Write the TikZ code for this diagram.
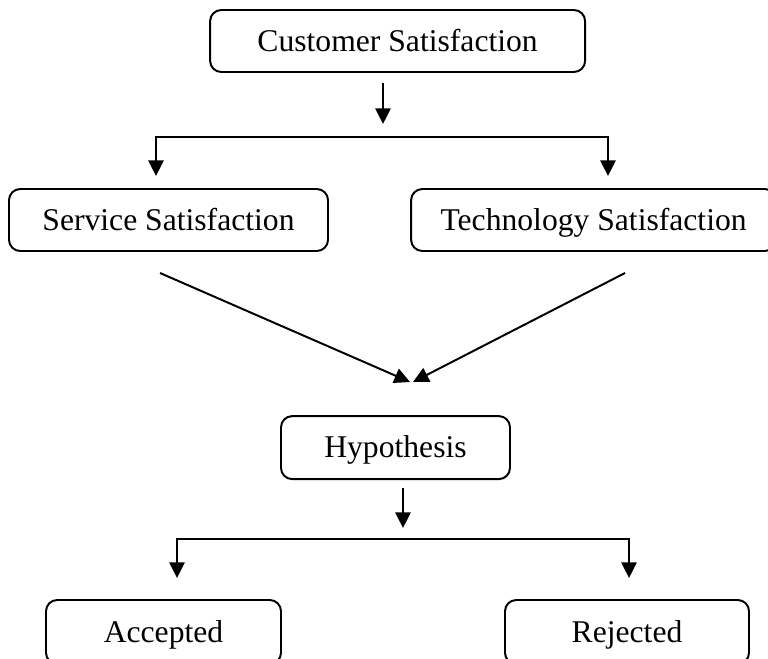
\documentclass[tikz,border=0pt]{standalone}
\usepackage{fontspec}
\setmainfont{Liberation Serif}
\usetikzlibrary{arrows.meta, positioning}

\tikzset{
  box/.style={draw, rounded corners=0.28cm, line width=1.4pt, inner sep=0pt,
    minimum height=1.55cm, text height=15.5pt, text depth=0.9pt,
    font=\fontsize{22.5}{27}\selectfont},
  arr/.style={-{Triangle[length=0.39cm,width=0.38cm]}, line width=1.4pt}
}

\begin{document}
\begin{tikzpicture}
  \clip (0,0) rectangle (19.2,-16.45);

  % boxes
  \node[box, minimum width=9.375cm] (cs) at (9.94,-1.025) {Customer Satisfaction};
  \node[box, minimum width=7.975cm] (ss) at (4.2125,-5.5) {Service Satisfaction};
  \node[box, minimum width=9.125cm] (ts) at (14.84,-5.5) {Technology Satisfaction};
  \node[box, minimum width=5.725cm, minimum height=1.575cm] (hy) at (9.8875,-11.19) {Hypothesis};
  \node[box, minimum width=5.875cm, minimum height=1.6cm] (ac) at (4.0875,-15.8) {Accepted};
  \node[box, minimum width=6.1cm, minimum height=1.6cm] (rj) at (15.675,-15.8) {Rejected};

  % first split
  \coordinate (cs1) at (9.575,-2.075);
  \coordinate (cs2) at (9.575,-3.1);
  \coordinate (sl) at (3.9,-3.425);
  \coordinate (sr) at (15.2,-3.425);
  \coordinate (sl2) at (3.9,-4.4);
  \coordinate (sr2) at (15.2,-4.4);
  \draw[arr] (cs1) -- (cs2);
  \draw[arr] (sr) -- (sl) -- (sl2);
  \draw[arr] (sl) -- (sr) -- (sr2);

  % merge
  \coordinate (ss1) at (4.0,-6.825);
  \coordinate (ts1) at (15.625,-6.825);
  \coordinate (m1) at (10.25,-9.55);
  \coordinate (m2) at (10.325,-9.55);
  \draw[arr] (ss1) -- (m1);
  \draw[arr] (ts1) -- (m2);

  % second split
  \coordinate (hy1) at (10.075,-12.2);
  \coordinate (hy2) at (10.075,-13.2);
  \coordinate (hl) at (4.425,-13.475);
  \coordinate (hr) at (15.725,-13.475);
  \coordinate (hl2) at (4.425,-14.45);
  \coordinate (hr2) at (15.725,-14.45);
  \draw[arr] (hy1) -- (hy2);
  \draw[arr] (hr) -- (hl) -- (hl2);
  \draw[arr] (hl) -- (hr) -- (hr2);
\end{tikzpicture}
\end{document}
